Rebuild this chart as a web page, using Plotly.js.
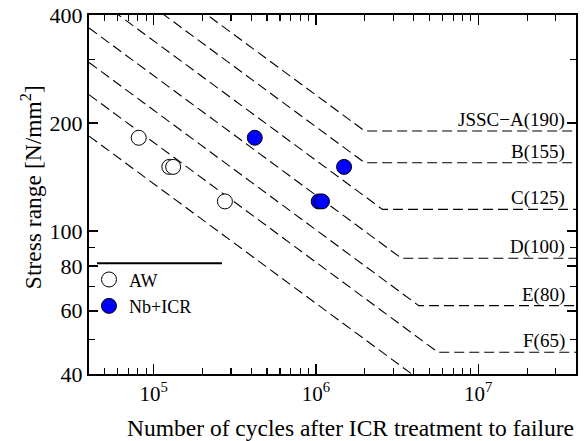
<!DOCTYPE html>
<html><head><meta charset="utf-8">
<script src="https://cdn.plot.ly/plotly-3.0.1.min.js"></script>
<style>html,body{margin:0;padding:0;background:#fff}#chart{width:586px;height:441px}</style>
</head><body><div id="chart"></div>
<script>
// Test data
const awCycles = [8.1e4, 1.25e5, 1.32e5, 2.75e5];
const awStress = [182, 151, 151, 121];
const icrCycles = [4.2e5, 1.04e6, 1.09e6, 1.49e6];
const icrStress = [182, 121, 121, 151];

// JSSC design curves (start, knee, end)
const curveLabels = ['JSSC\u2212A(190)', 'B(155)', 'C(125)', 'D(100)', 'E(80)', 'F(65)', ''];
const curveCycles = [
  [4e4, 2.0e6, 4e7],
  [4e4, 2.0e6, 4e7],
  [4e4, 2.57e6, 4e7],
  [4e4, 3.37e6, 4e7],
  [4e4, 4.3e6, 4e7],
  [4e4, 5.64e6, 4e7],
  [4e4, 5.0e6]
];
const curveStress = [
  [700, 190, 190],
  [571, 155, 155],
  [460, 115, 115],
  [368, 84, 84],
  [295, 62, 62],
  [240, 46, 46],
  [184, 36.8]
];
const cutoffStress = [190, 155, 115, 84, 62, 46];

const xMajor = [1e5, 1e6, 1e7];
const xMajorText = ['10<sup>5</sup>', '10<sup>6</sup>', '10<sup>7</sup>'];
const yMajor = [40, 60, 80, 100, 200, 400];
const yMinor = [50, 70, 90, 300];

const FONT = "'Liberation Serif', 'Times New Roman', Times, serif";

const xMinor = [];
[1e4, 1e5, 1e6, 1e7].forEach(d => { for (let k = 2; k <= 9; k++) { const v = k * d; if (v > 4e4 && v < 4e7) xMinor.push(v); } });

const traces = [];
curveCycles.forEach((cx, i) => {
  traces.push({
    x: cx, y: curveStress[i], mode: 'lines', type: 'scatter', showlegend: false, hoverinfo: 'skip',
    line: { color: '#000', width: 1.1, dash: '10px,5px' }
  });
});
traces.push({
  x: awCycles, y: awStress, mode: 'markers', type: 'scatter', name: 'AW',
  marker: { size: 15, color: '#fff', line: { color: '#000', width: 1 } }
});
traces.push({
  x: icrCycles, y: icrStress, mode: 'markers', type: 'scatter', name: 'Nb+ICR',
  marker: { size: 15, color: '#0000ff', line: { color: '#000', width: 1 } }
});

const annotations = cutoffStress.map((s, i) => ({
  xref: 'paper', yref: 'y', x: 0.981, y: Math.log10(s), xanchor: 'right', yanchor: 'middle', yshift: 11,
  text: curveLabels[i], showarrow: false, font: { family: FONT, size: 19, color: '#000' }
}));
annotations.push({
  xref: 'paper', yref: 'paper', x: 0.5376, y: -0.15, xanchor: 'center', yanchor: 'middle',
  text: 'Number of cycles after ICR treatment to failure', showarrow: false,
  font: { family: FONT, size: 23.5, color: '#000' }
});
annotations.push({
  xref: 'paper', yref: 'paper', x: -0.1177, y: 0.5195, xanchor: 'center', yanchor: 'middle', textangle: -90,
  text: 'Stress range [N/mm<sup>2</sup>]', showarrow: false,
  font: { family: FONT, size: 23.5, color: '#000' }
});

const layout = {
  width: 586, height: 441,
  margin: { l: 89, r: 10, t: 15, b: 67 },
  paper_bgcolor: '#fff', plot_bgcolor: '#fff',
  font: { family: FONT, color: '#000', size: 18 },
  showlegend: true,
  legend: {
    x: 0, y: 0.314, xanchor: 'left', yanchor: 'top',
    bgcolor: 'rgba(0,0,0,0)', borderwidth: 0,
    font: { family: FONT, size: 18, color: '#000' }
  },
  xaxis: {
    type: 'log', range: [Math.log10(4e4), Math.log10(4e7)],
    tickmode: 'array', tickvals: xMajor, ticktext: xMajorText,
    ticks: 'inside', ticklen: 10, tickwidth: 1.5, tickcolor: '#000',
    minor: { tickmode: 'array', tickvals: xMinor, ticks: 'inside', ticklen: 6, tickwidth: 1.2, tickcolor: '#000', showgrid: false },
    showline: true, linecolor: '#000', linewidth: 2, mirror: 'allticks',
    showgrid: false, zeroline: false,
    tickfont: { family: FONT, size: 21, color: '#000' }
  },
  yaxis: {
    type: 'log', range: [Math.log10(40), Math.log10(400)],
    tickmode: 'array', tickvals: yMajor, ticktext: yMajor.map(String),
    ticks: 'inside', ticklen: 9, tickwidth: 1.5, tickcolor: '#000',
    minor: { tickmode: 'array', tickvals: yMinor, ticks: 'inside', ticklen: 6, tickwidth: 1.2, tickcolor: '#000', showgrid: false },
    showline: true, linecolor: '#000', linewidth: 2, mirror: 'allticks',
    showgrid: false, zeroline: false,
    tickfont: { family: FONT, size: 22, color: '#000' }
  },
  shapes: [{
    type: 'line', xref: 'paper', yref: 'paper', x0: 0.0164, x1: 0.273, y0: 0.3084, y1: 0.3084,
    line: { color: '#000', width: 2 }
  }],
  annotations: annotations
};

Plotly.newPlot('chart', traces, layout, { displayModeBar: false, staticPlot: true });
</script>
</body></html>
